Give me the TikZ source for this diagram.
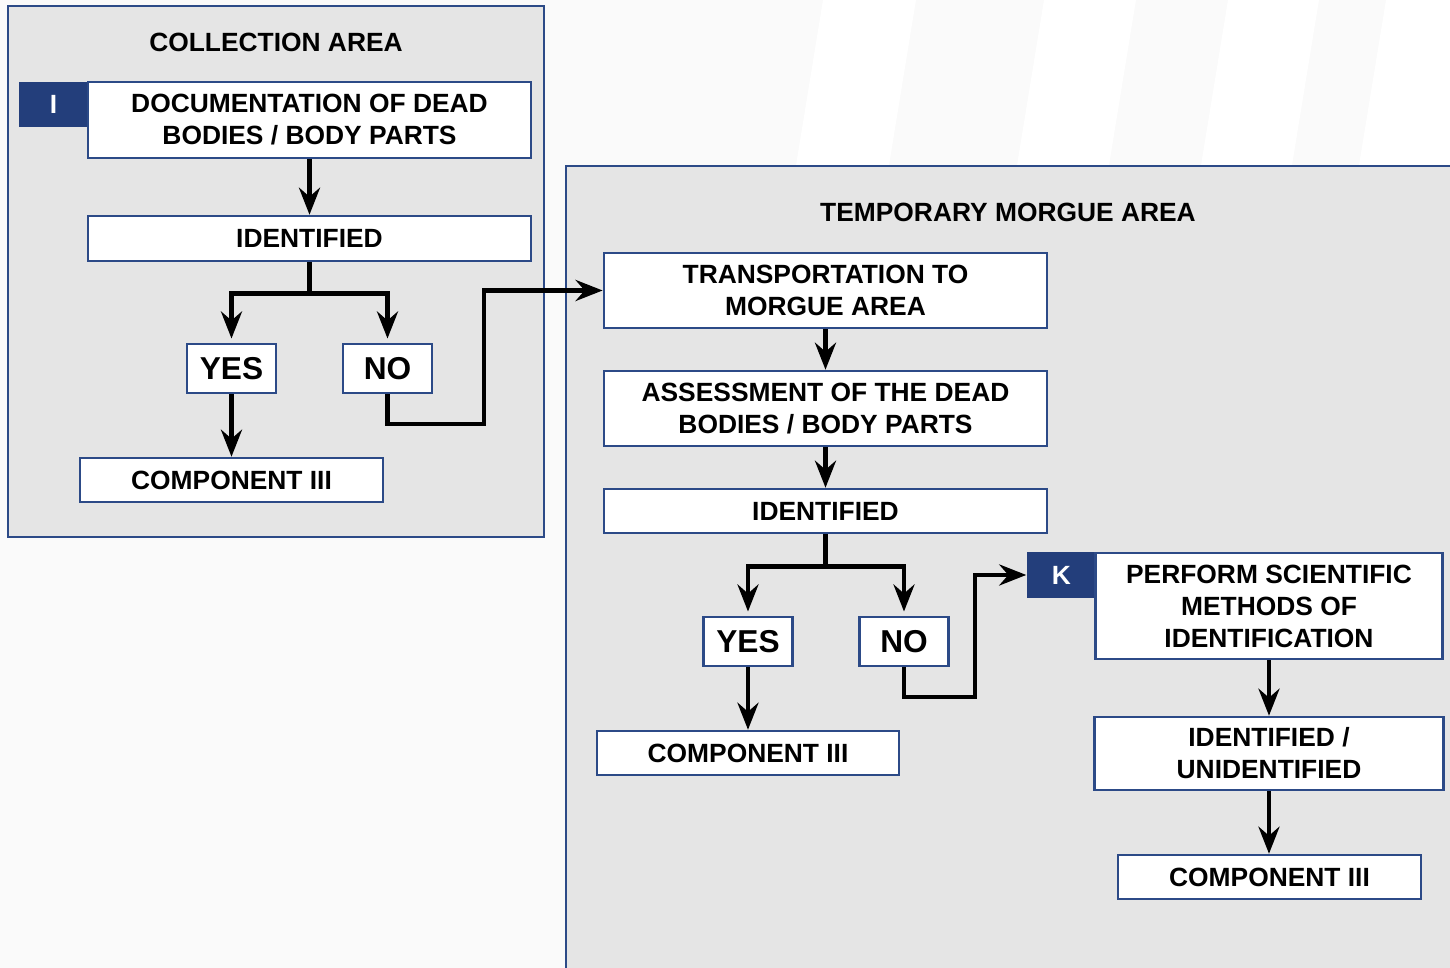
\documentclass[tikz,border=0pt]{standalone}
\usepackage{fontspec}
\setmainfont{Liberation Sans}
\usepackage{xcolor}
\usetikzlibrary{arrows.meta}
\definecolor{PageGray}{HTML}{FAFAFA}
\definecolor{AreaGray}{HTML}{E5E5E5}
\definecolor{TabBlue}{HTML}{233E7B}
\definecolor{EdgeBlue}{HTML}{2C4A87}
\tikzset{
  area/.style={draw=EdgeBlue, line width=0.75pt, fill=AreaGray},
  box/.style={draw=EdgeBlue, line width=0.7pt, fill=white, inner sep=0pt, align=center, font=\fontsize{7.5}{9.1}\selectfont\bfseries},
  tab/.style={fill=TabBlue, text=white, inner sep=0pt, font=\fontsize{7.5}{9}\selectfont\bfseries},
  answer/.style={box, minimum width=0.89cm, minimum height=0.49cm, font=\fontsize{9}{10}\selectfont\bfseries},
  areatitle/.style={font=\fontsize{7.5}{9}\selectfont\bfseries},
  link/.style={line width=1.4pt},
  flow/.style={link, -{Stealth[length=2.7mm,width=2.1mm,inset=0.9mm]}}
}
\begin{document}
\begin{tikzpicture}[x=0.01cm, y=-0.01cm]
\clip (0,0) rectangle (1450,968);
\fill[PageGray] (0,0) rectangle (1450,968);
\foreach \a/\b in {823/916, 1044/1136, 1228/1319, 1386/1480}
  \fill[white] (\a,0) -- (\b,0) -- (\b-80,490) -- (\a-80,490) -- cycle;
\draw[area] (8,6) rectangle (544,537);
\draw[area] (566,166) rectangle (1480,1000);
\node[areatitle] (colltitle) at (276,42) {COLLECTION AREA};
\node[areatitle] (morgtitle) at (1008,212) {TEMPORARY MORGUE AREA};

\node[tab, minimum width=0.69cm, minimum height=0.45cm] (itab) at (53.5,104.5) {I};
\node[box, minimum width=4.43cm, minimum height=0.76cm] (docbox) at (309.5,120) {DOCUMENTATION OF DEAD\\BODIES / BODY PARTS};
\node[box, minimum width=4.43cm, minimum height=0.45cm] (ident1) at (309.5,238.5) {IDENTIFIED};
\node[answer] (yes1) at (231.5,368.5) {YES};
\node[answer] (no1) at (387.5,368.5) {NO};
\node[box, minimum width=3.03cm, minimum height=0.44cm] (comp1) at (231.5,480) {COMPONENT III};

\node[box, minimum width=4.43cm, minimum height=0.75cm] (transport) at (825.5,290.5) {TRANSPORTATION TO\\MORGUE AREA};
\node[box, minimum width=4.43cm, minimum height=0.75cm] (assess) at (825.5,408.5) {ASSESSMENT OF THE DEAD\\BODIES / BODY PARTS};
\node[box, minimum width=4.43cm, minimum height=0.44cm] (ident2) at (825.5,511) {IDENTIFIED};
\node[answer] (yes2) at (748,641.5) {YES};
\node[answer] (no2) at (904,641.5) {NO};
\node[box, minimum width=3.02cm, minimum height=0.44cm] (comp2) at (748,753) {COMPONENT III};

\node[tab, minimum width=0.69cm, minimum height=0.46cm] (ktab) at (1061.5,575) {K};
\node[box, minimum width=3.47cm, minimum height=1.06cm] (perform) at (1269,606) {PERFORM SCIENTIFIC\\METHODS OF\\IDENTIFICATION};
\node[box, minimum width=3.49cm, minimum height=0.73cm] (identun) at (1269,753.5) {IDENTIFIED /\\UNIDENTIFIED};
\node[box, minimum width=3.03cm, minimum height=0.44cm] (comp3) at (1269.5,877) {COMPONENT III};

\draw[flow] (docbox.south) -- (ident1.north);
\draw[link] (ident1.south) -- ++(0,31) coordinate (fork1);
\draw[flow, shorten >=1.2pt] (fork1) -| (yes1.north);
\draw[flow, shorten >=1.2pt] (fork1) -| (no1.north);
\draw[flow] (yes1.south) -- (comp1.north);
\coordinate (jog1) at (484,424);
\draw[flow] (no1.south) |- (jog1) |- (transport.west);

\draw[flow] (transport.south) -- (assess.north);
\draw[flow] (assess.south) -- (ident2.north);
\draw[link] (ident2.south) -- ++(0,32) coordinate (fork2);
\draw[flow, shorten >=1.2pt] (fork2) -| (yes2.north);
\draw[flow, shorten >=1.2pt] (fork2) -| (no2.north);
\draw[flow] (yes2.south) -- (comp2.north);
\coordinate (jog2) at (975,697);
\draw[flow] (no2.south) |- (jog2) |- (ktab.west);

\draw[flow] (perform.south) -- (identun.north);
\draw[flow] (identun.south) -- (identun.south |- comp3.north);
\end{tikzpicture}
\end{document}
